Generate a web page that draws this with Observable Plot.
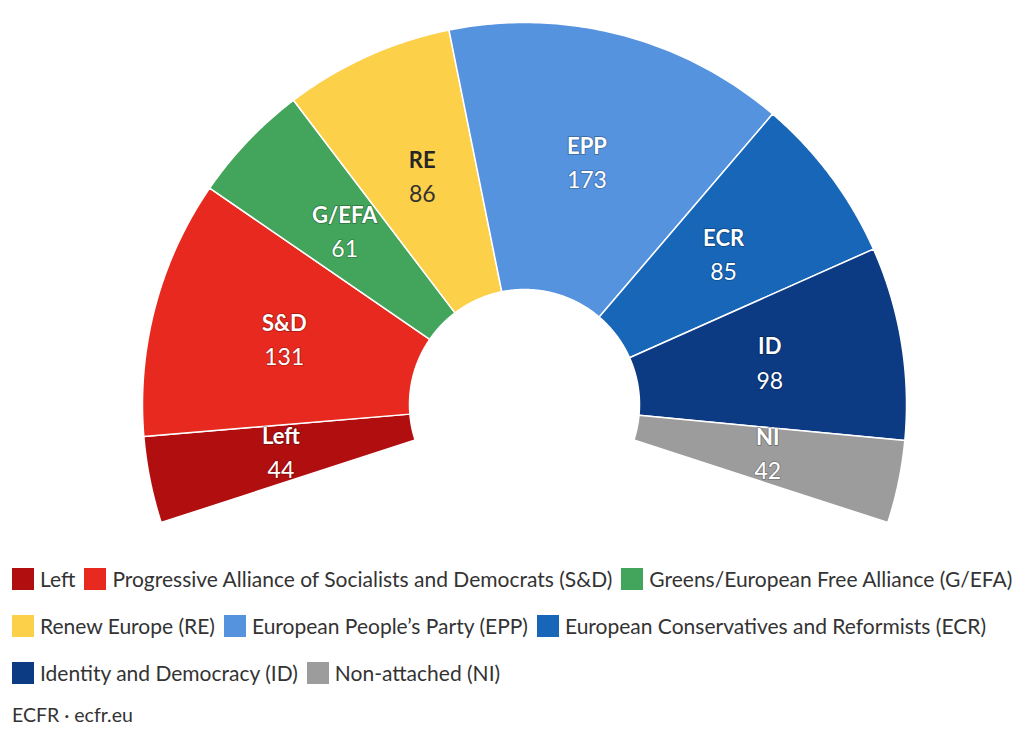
<!DOCTYPE html>
<html><head><meta charset="utf-8">
<script src="https://cdn.jsdelivr.net/npm/d3@7"></script>
<script src="https://cdn.jsdelivr.net/npm/@observablehq/plot@0.6"></script>
<style>
body{margin:0;background:#fff;font-family:Lato,"Open Sans",sans-serif;overflow:hidden}
#chart svg{display:block}
.row{height:47px;display:flex;align-items:center;padding-left:12px;white-space:nowrap}
.lg-swatches{font-family:Lato,"Open Sans",sans-serif !important;font-size:21px !important;color:#333;margin:0 !important;min-height:0 !important;flex-wrap:nowrap !important;white-space:nowrap}
.lg-swatch{margin-right:9px !important;white-space:nowrap;flex-shrink:0}
.lg-swatch > svg{margin-right:6px !important}
#caption{padding-left:12px;height:38px;line-height:38px;font-size:19.5px;color:#333}
</style></head><body>
<div id="chart"></div><div id="legend"></div><div id="caption">ECFR · ecfr.eu</div>
<script>
const parties = ["Left","S&D","G/EFA","RE","EPP","ECR","ID","NI"];
const fullNames = ["Left","Progressive Alliance of Socialists and Democrats (S&D)","Greens/European Free Alliance (G/EFA)","Renew Europe (RE)","European People’s Party (EPP)","European Conservatives and Reformists (ECR)","Identity and Democracy (ID)","Non-attached (NI)"];
const seats = [44,131,61,86,173,85,98,42];
const palette = ["#b10e10","#e8291f","#43a55b","#fdd04a","#5593df","#1766b7","#0c3a83","#9c9c9c"];
const legendRows = [[0,1,2],[3,4,5],[6,7]];

const W = 1021, H = 555, cx = 524, cy = 404, Rpx = 382;
const rIn = 115/382, rOut = 1, rLab = (rIn + rOut)/2;
const total = d3.sum(seats);
const angle = d3.scaleLinear().domain([0,total]).range([-0.6*Math.PI, 0.6*Math.PI]);
let cum = 0;
const slices = parties.map((p,i)=>{const s=angle(cum); cum+=seats[i]; const e=angle(cum); return {party:p, seats:seats[i], start:s, end:e, mid:(s+e)/2};});
const pts = slices.flatMap(d=>{
  const n=80, out=[];
  for(let k=0;k<=n;k++){const t=d.start+(d.end-d.start)*k/n; out.push({party:d.party,x:rOut*Math.sin(t),y:rOut*Math.cos(t)});}
  for(let k=n;k>=0;k--){const t=d.start+(d.end-d.start)*k/n; out.push({party:d.party,x:rIn*Math.sin(t),y:rIn*Math.cos(t)});}
  return out;
});
const lx = d=>rLab*Math.sin(d.mid), ly = d=>rLab*Math.cos(d.mid);
const dark = d=>d.party==="RE";
const chart = Plot.plot({
  width:W, height:H, margin:0,
  style:{fontFamily:"Lato, 'Open Sans', sans-serif", background:"white"},
  x:{domain:[-cx/Rpx,(W-cx)/Rpx], axis:null},
  y:{domain:[-(H-cy)/Rpx, cy/Rpx], axis:null},
  color:{domain:parties, range:palette},
  marks:[
    Plot.line(pts,{x:"x",y:"y",z:"party",fill:"party",stroke:"white",strokeWidth:1.5,curve:"linear-closed"}),
    Plot.text(slices.filter(d=>!dark(d)),{x:lx,y:ly,text:"party",dy:-17,fontSize:22,fontWeight:"bold",fill:"white",stroke:"rgba(0,0,0,0.25)",strokeWidth:2}),
    Plot.text(slices.filter(d=>!dark(d)),{x:lx,y:ly,text:d=>String(d.seats),dy:17,fontSize:23,fill:"white",stroke:"rgba(0,0,0,0.2)",strokeWidth:2}),
    Plot.text(slices.filter(dark),{x:lx,y:ly,text:"party",dy:-17,fontSize:22,fontWeight:"bold",fill:"#262626"}),
    Plot.text(slices.filter(dark),{x:lx,y:ly,text:d=>String(d.seats),dy:17,fontSize:23,fill:"#333"})
  ]
});
document.getElementById("chart").append(chart);
const lg = document.getElementById("legend");
for (const row of legendRows) {
  const div = document.createElement("div"); div.className="row";
  div.append(Plot.legend({color:{type:"ordinal",domain:row.map(i=>fullNames[i]),range:row.map(i=>palette[i]),legend:"swatches"},legend:"swatches",swatchSize:22,className:"lg"}));
  lg.append(div);
}
</script></body></html>
